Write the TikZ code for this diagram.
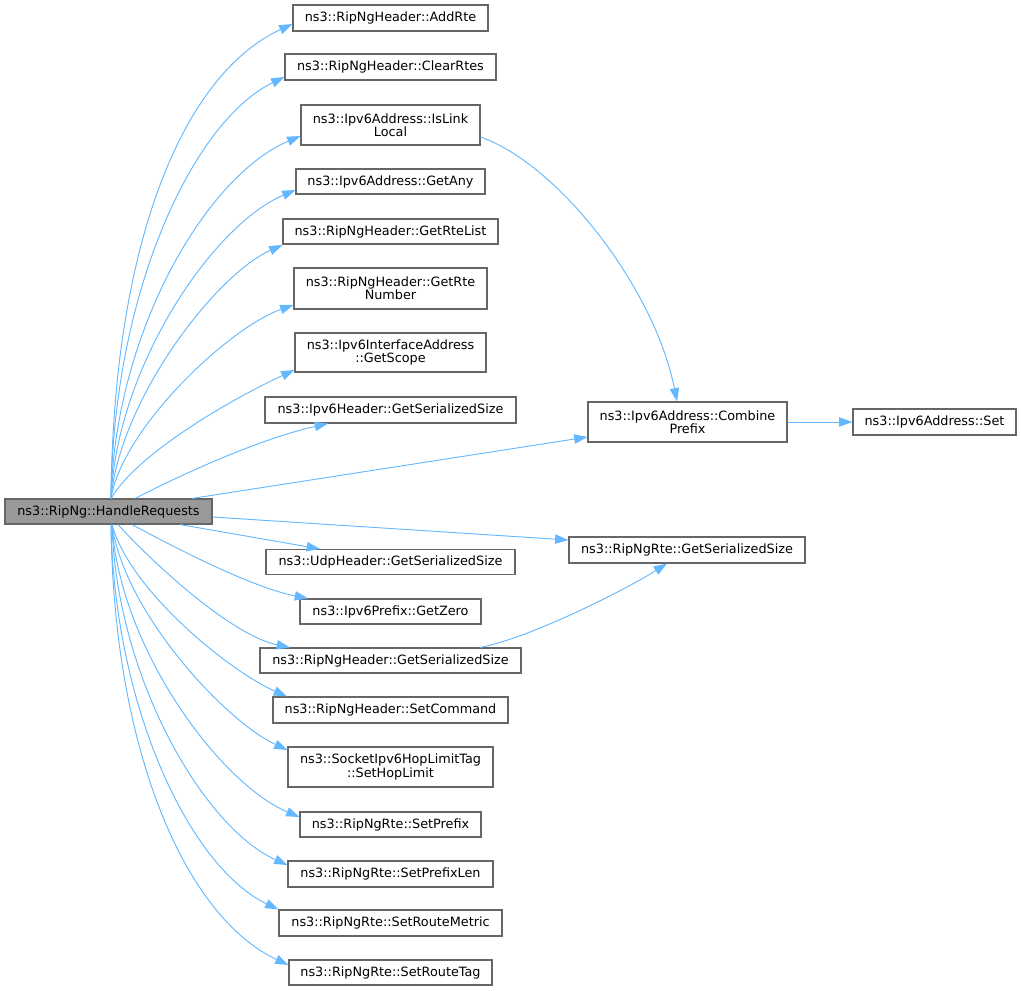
\documentclass[tikz,border=0pt]{standalone}
\usepackage{fontspec}
\setmainfont{DejaVu Sans}
\usetikzlibrary{arrows.meta}
\definecolor{edgeblue}{HTML}{63B8FF}
\definecolor{boxgray}{HTML}{666666}
\definecolor{rootfill}{HTML}{999999}
\begin{document}
\begin{tikzpicture}[x=0.75pt,y=-0.75pt,
  fn/.style={draw=boxgray, line width=0.8pt, fill=white, inner sep=0pt, align=center,
    font=\fontsize{9.6pt}{10pt}\selectfont},
  sz/.style 2 args={minimum width=#1*0.75pt, minimum height=#2*0.75pt},
  root/.style={fn, fill=rootfill},
  e/.style={draw=edgeblue, line width=0.7pt, -{Triangle[length=10pt,width=7pt]}}]
\useasboundingbox (0,0) rectangle (1021,991);

% nodes
\node[root, sz={207}{25}] (hr) at (108.5,511.5) {ns3::RipNg::HandleRequests};
\node[fn, sz={195}{26}] (addrte) at (390.5,18) {ns3::RipNgHeader::AddRte};
\node[fn, sz={211}{26}] (clear) at (390.5,67) {ns3::RipNgHeader::ClearRtes};
\node[fn, sz={179}{40}] (islink) at (390.5,125) {ns3::Ipv6Address::IsLink\\Local};
\node[fn, sz={189}{25}] (getany) at (390.5,181.5) {ns3::Ipv6Address::GetAny};
\node[fn, sz={215}{25}] (rtelist) at (390.5,231.5) {ns3::RipNgHeader::GetRteList};
\node[fn, sz={193}{41}] (rtenum) at (390.5,288.5) {ns3::RipNgHeader::GetRte\\Number};
\node[fn, sz={191}{39}] (scope) at (390.5,352.5) {ns3::Ipv6InterfaceAddress\\::GetScope};
\node[fn, sz={251}{26}] (v6gss) at (390.5,410) {ns3::Ipv6Header::GetSerializedSize};
\node[fn, sz={199}{40}] (combine) at (687.5,422) {ns3::Ipv6Address::Combine\\Prefix};
\node[fn, sz={163}{26}] (set) at (934.5,422) {ns3::Ipv6Address::Set};
\node[fn, sz={236}{26}] (rtegss) at (687,550) {ns3::RipNgRte::GetSerializedSize};
\node[fn, sz={249}{25}] (udp) at (390.5,562) {ns3::UdpHeader::GetSerializedSize};
\node[fn, sz={181}{25}] (zero) at (390.5,611.5) {ns3::Ipv6Prefix::GetZero};
\node[fn, sz={261}{25}] (hdrgss) at (390.5,660.5) {ns3::RipNgHeader::GetSerializedSize};
\node[fn, sz={235}{26}] (setcmd) at (390.5,710) {ns3::RipNgHeader::SetCommand};
\node[fn, sz={205}{40}] (hop) at (390.5,767) {ns3::SocketIpv6HopLimitTag\\::SetHopLimit};
\node[fn, sz={181}{25}] (prefix) at (390.5,824.5) {ns3::RipNgRte::SetPrefix};
\node[fn, sz={205}{26}] (prefixlen) at (390.5,874) {ns3::RipNgRte::SetPrefixLen};
\node[fn, sz={223}{26}] (metric) at (390.5,923) {ns3::RipNgRte::SetRouteMetric};
\node[fn, sz={203}{25}] (tag) at (390.5,972.5) {ns3::RipNgRte::SetRouteTag};

% upward edges
\draw[e] (hr.north -| 111,0) .. controls (113,250) and (180,76) .. (addrte.west |- 0,24);
\draw[e] (hr.north -| 111,0) .. controls (113,288) and (195,120) .. (clear.west |- 0,77);
\draw[e] (hr.north -| 111,0) .. controls (115,332) and (206,176) .. (islink.west |- 0,136);
\draw[e] (hr.north -| 111,0) .. controls (117,366) and (213,225) .. (getany.west |- 0,190);
\draw[e] (hr.north -| 111,0) .. controls (120,400) and (215,275) .. (rtelist.west |- 0,245);
\draw[e] (hr.north -| 111,0) .. controls (122,429) and (228,328) .. (rtenum.west |- 0,305);
\draw[e] (hr.north -| 111,0) .. controls (140,450) and (240,395) .. (scope.west |- 0,370);
\draw[e] (hr.north -| 135,0) .. controls (175,478) and (255,440) .. (v6gss.south -| 328,0);
\draw[e] (hr.north -| 192,0) -- (combine.west |- 0,437);
\draw[e] (hr.east |- 0,517) -- (rtegss.west |- 0,540);

% downward edges
\draw[e] (hr.south -| 180,0) -- (udp.north -| 320,0);
\draw[e] (hr.south -| 132,0) .. controls (170,545) and (250,587) .. (zero.north -| 308,0);
\draw[e] (hr.south -| 118,0) .. controls (150,560) and (230,635) .. (hdrgss.north -| 290,0);
\draw[e] (hr.south -| 112,0) .. controls (129.5,590) and (229,671) .. (setcmd.north -| 287,0);
\draw[e] (hr.south -| 112,0) .. controls (124,612) and (225,721) .. (hop.west |- 0,750);
\draw[e] (hr.south -| 112,0) .. controls (119.5,647) and (219,783) .. (prefix.west |- 0,817);
\draw[e] (hr.south -| 112,0) .. controls (116.4,677) and (203.5,827.5) .. (prefixlen.west |- 0,865);
\draw[e] (hr.south -| 111,0) .. controls (114.5,709) and (190.5,867.5) .. (metric.north west);
\draw[e] (hr.south -| 111,0) .. controls (113.4,749) and (184.6,916.5) .. (tag.west |- 0,965);

% second level
\draw[e] (islink.east |- 0,137) .. controls (560,165) and (655,290) .. (combine.north -| 677,0);
\draw[e] (combine.east) -- (set.west);
\draw[e] (hdrgss.north -| 480,0) .. controls (530,638) and (625,590) .. (rtegss.south -| 667,0);
\end{tikzpicture}
\end{document}
